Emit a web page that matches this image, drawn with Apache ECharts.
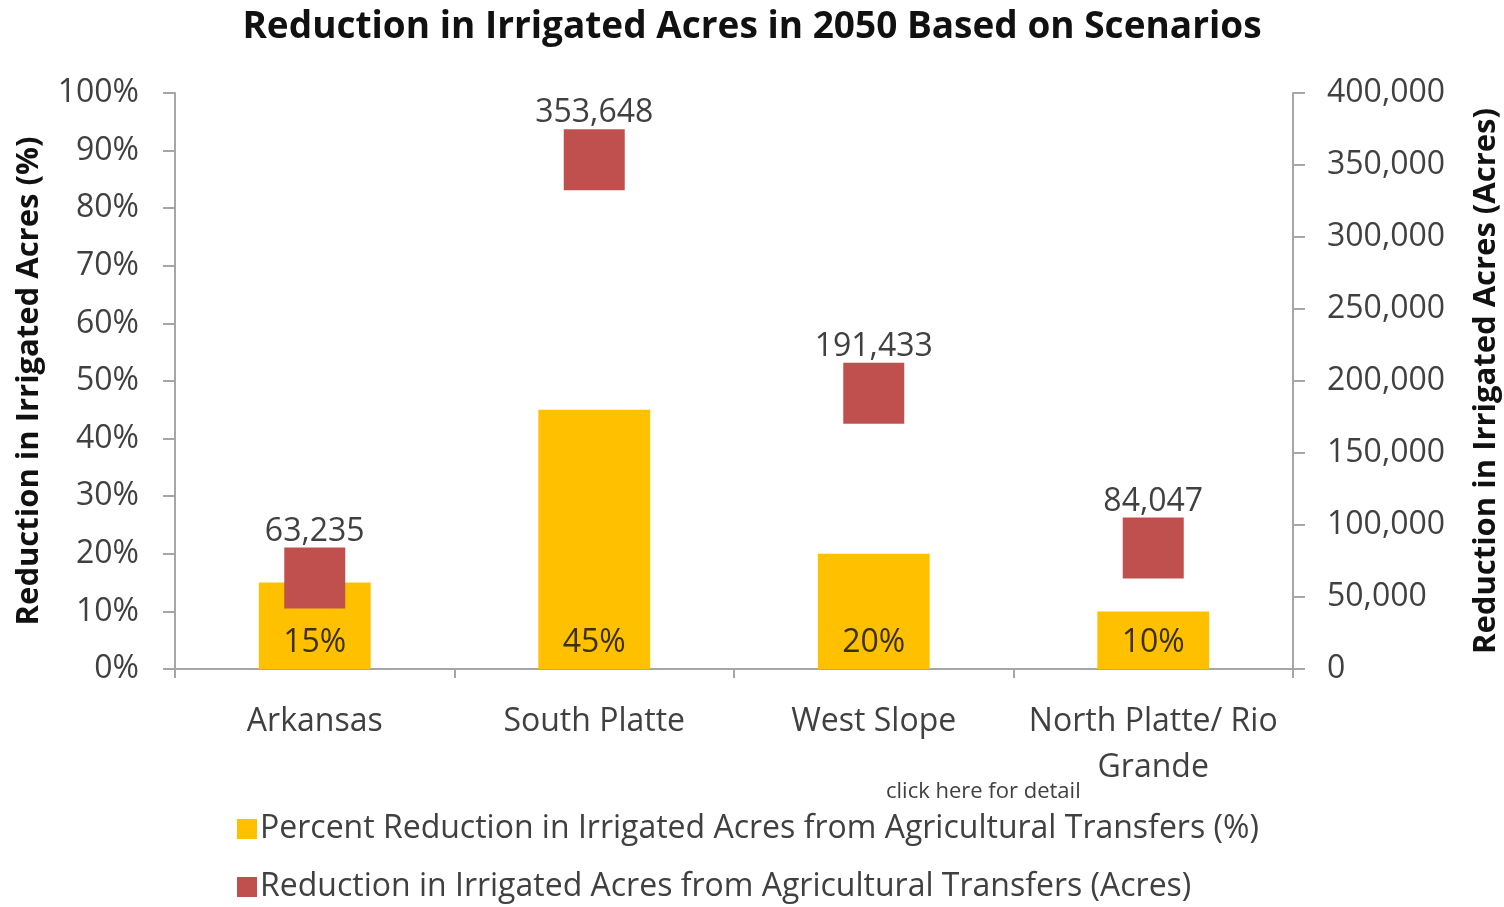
<!DOCTYPE html>
<html>
<head>
<meta charset="utf-8">
<script src="https://cdn.jsdelivr.net/npm/echarts@6/dist/echarts.min.js"></script>
<style>
  html, body { margin: 0; padding: 0; background: #fff; }
  #chart { width: 1504px; height: 907px; }
</style>
</head>
<body>
<div id="chart"></div>
<script>
const categories = ['Arkansas', 'South Platte', 'West Slope', 'North Platte/ Rio\nGrande'];
const percentValues = [15, 45, 20, 10];
const acreValues = [63235, 353648, 191433, 84047];
const percentTicks = { min: 0, max: 100, interval: 10 };
const acreTicks = { min: 0, max: 400000, interval: 50000 };

const percentName = 'Percent Reduction in Irrigated Acres from Agricultural Transfers (%)';
const acreName = 'Reduction in Irrigated Acres from Agricultural Transfers (Acres)';

const FONT = '"Open Sans", "Noto Sans", sans-serif';
const TEXT = '#404040';
const AXIS = '#a6a6a6';

const chart = echarts.init(document.getElementById('chart'));

function legendRow(name, top) {
  return {
    left: 232,
    top: top,
    itemWidth: 20,
    itemHeight: 20,
    icon: 'rect',
    textStyle: { fontFamily: FONT, fontSize: 32, color: TEXT, padding: [0, 0, 0, -2] },
    data: [name]
  };
}

chart.setOption({
  animation: false,
  textStyle: { fontFamily: FONT, color: TEXT },
  title: {
    text: 'Reduction in Irrigated Acres in 2050 Based on Scenarios',
    left: 'center',
    top: 4,
    textStyle: { fontFamily: FONT, fontSize: 37, fontWeight: 'bold', color: '#111' }
  },
  grid: { left: 175, right: 211, top: 93, bottom: 238, outerBoundsMode: 'none' },
  legend: [legendRow(percentName, 808), legendRow(acreName, 866)],
  graphic: [{
    type: 'text',
    left: 886,
    top: 781,
    style: { text: 'click here for detail', fontFamily: FONT, fontSize: 22, fill: TEXT }
  }],
  xAxis: {
    type: 'category',
    data: categories,
    axisLine: { lineStyle: { color: AXIS, width: 2 } },
    axisTick: { show: true, length: 9, lineStyle: { color: AXIS, width: 2 } },
    axisLabel: { fontSize: 32, color: TEXT, margin: 30, lineHeight: 46, interval: 0 }
  },
  yAxis: [{
    type: 'value',
    min: percentTicks.min,
    max: percentTicks.max,
    interval: percentTicks.interval,
    name: 'Reduction in Irrigated Acres (%)',
    nameLocation: 'middle',
    nameGap: 130,
    nameTextStyle: { fontSize: 31, fontWeight: 'bold', color: '#111' },
    axisLine: { show: true, lineStyle: { color: AXIS, width: 2 } },
    axisTick: { show: true, length: 12, lineStyle: { color: AXIS, width: 2 } },
    axisLabel: { fontSize: 32, color: TEXT, margin: 36, formatter: '{value}%' },
    splitLine: { show: false }
  }, {
    type: 'value',
    min: acreTicks.min,
    max: acreTicks.max,
    interval: acreTicks.interval,
    name: 'Reduction in Irrigated Acres (Acres)',
    nameLocation: 'middle',
    nameGap: 178,
    nameRotate: 90,
    nameTextStyle: { fontSize: 31, fontWeight: 'bold', color: '#111' },
    axisLine: { show: true, lineStyle: { color: AXIS, width: 2 } },
    axisTick: { show: true, length: 12, lineStyle: { color: AXIS, width: 2 } },
    axisLabel: {
      fontSize: 32, color: TEXT, margin: 34,
      formatter: v => v.toLocaleString('en-US')
    },
    splitLine: { show: false }
  }],
  series: [{
    name: percentName,
    type: 'bar',
    yAxisIndex: 0,
    data: percentValues,
    barWidth: '40%',
    itemStyle: { color: '#ffc000' },
    label: {
      show: true,
      position: 'insideBottom',
      distance: 10,
      fontSize: 32,
      color: '#3a3000',
      formatter: '{c}%'
    },
    z: 2
  }, {
    name: acreName,
    type: 'scatter',
    yAxisIndex: 1,
    data: acreValues,
    symbol: 'rect',
    symbolSize: 61,
    itemStyle: { color: '#c0504d', opacity: 1 },
    label: {
      show: true,
      position: 'top',
      distance: 0,
      fontSize: 32,
      color: TEXT,
      formatter: p => p.value.toLocaleString('en-US')
    },
    z: 3
  }]
});
</script>
</body>
</html>
